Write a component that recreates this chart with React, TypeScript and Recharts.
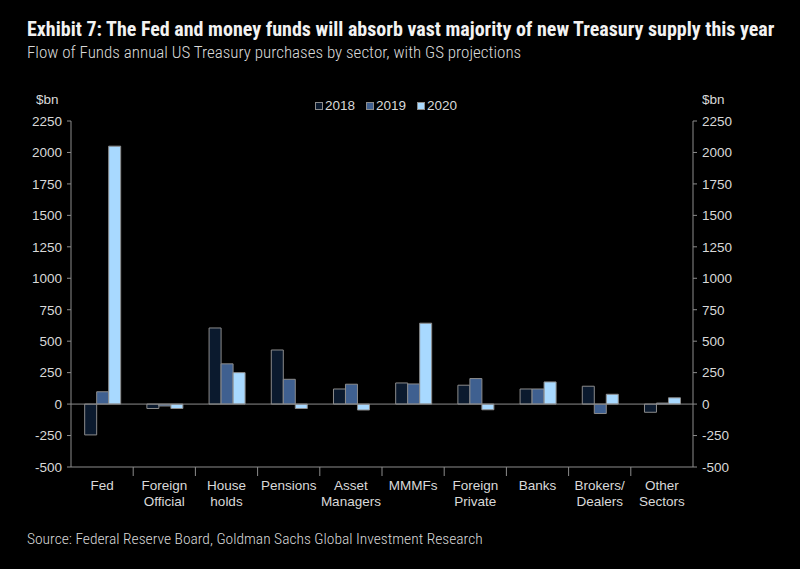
import { ComposedChart, Bar, Line, XAxis, YAxis, ReferenceLine, Legend } from 'recharts';

const sectors = [
  'Fed',
  'Foreign\nOfficial',
  'House\nholds',
  'Pensions',
  'Asset\nManagers',
  'MMMFs',
  'Foreign\nPrivate',
  'Banks',
  'Brokers/\nDealers',
  'Other\nSectors',
];
const y2018 = [-245, -35, 605, 430, 120, 168, 150, 120, 142, -65];
const y2019 = [98, -15, 320, 197, 158, 160, 203, 120, -75, 8];
const y2020 = [2050, -35, 250, -35, -47, 643, -45, 176, 78, 50];
const yTicks = [-500, -250, 0, 250, 500, 750, 1000, 1250, 1500, 1750, 2000, 2250];

const data = sectors.map((name, i) => ({
  name,
  y2018: y2018[i],
  y2019: y2019[i],
  y2020: y2020[i],
}));

// headings use a condensed face, the axes an Arial-like one
const HEAD_FONT = '"Roboto Condensed", "Liberation Sans Narrow", Roboto, Arial, sans-serif';
const AXIS_FONT = '"Liberation Sans", Arial, sans-serif';
const TXT = '#d9d9d9';
const AXIS = '#8c8c8c';
const C2018 = '#0b1a2e';
const C2019 = '#3f6090';
const C2020 = '#a8d9ff';

const PLOT_LEFT = 71;
const PLOT_RIGHT = 693;
const X_AXIS_H = 40;
const BAND = (PLOT_RIGHT - PLOT_LEFT) / sectors.length;

function SectorTick({ x, y, payload, index }: any) {
  const lines = String(payload.value).split('\n');
  return (
    <g>
      {index > 0 && (
        <line x1={x - BAND / 2} x2={x - BAND / 2} y1={y - 8} y2={y + 1} stroke={AXIS} />
      )}
      <text x={x} y={y + 15} textAnchor="middle" fill={TXT} fontSize={13.5} fontFamily={AXIS_FONT}>
        {lines.map((l, i) => (
          <tspan key={i} x={x} dy={i === 0 ? 0 : 16}>
            {l}
          </tspan>
        ))}
      </text>
    </g>
  );
}

const legendItems = [
  { label: '2018', color: C2018 },
  { label: '2019', color: C2019 },
  { label: '2020', color: C2020 },
];

function LegendBox() {
  return (
    <div style={{ display: 'flex', gap: 11, fontFamily: AXIS_FONT, fontSize: 13.5, color: TXT }}>
      {legendItems.map((it) => (
        <div key={it.label} style={{ display: 'flex', alignItems: 'center' }}>
          <span
            style={{
              width: 6,
              height: 6,
              background: it.color,
              border: '1px solid #8c8c8c',
              marginRight: 2,
              display: 'inline-block',
            }}
          />
          {it.label}
        </div>
      ))}
    </div>
  );
}

const yTick = { fill: TXT, fontSize: 13.5, fontFamily: AXIS_FONT };

export default function App() {
  return (
    <div style={{ position: 'absolute', top: 0, left: 0, width: 800, height: 569, background: '#000', overflow: 'hidden' }}>
      <div style={{ position: 'absolute', left: 27, top: 17, fontFamily: HEAD_FONT, fontWeight: 'bold', fontSize: 20, color: '#f2f2f2', whiteSpace: 'nowrap' }}>
        Exhibit 7: The Fed and money funds will absorb vast majority of new Treasury supply this year
      </div>
      <div style={{ position: 'absolute', left: 27, top: 42, fontFamily: HEAD_FONT, fontWeight: 300, fontSize: 17, color: TXT, whiteSpace: 'nowrap' }}>
        Flow of Funds annual US Treasury purchases by sector, with GS projections
      </div>
      <div style={{ position: 'absolute', left: 36, top: 92, fontFamily: AXIS_FONT, fontSize: 13.5, color: TXT }}>$bn</div>
      <div style={{ position: 'absolute', left: 702, top: 92, fontFamily: AXIS_FONT, fontSize: 13.5, color: TXT }}>$bn</div>
      <div style={{ position: 'absolute', left: 27, top: 530, fontFamily: HEAD_FONT, fontWeight: 300, fontSize: 15.5, color: TXT, whiteSpace: 'nowrap' }}>
        Source: Federal Reserve Board, Goldman Sachs Global Investment Research
      </div>
      <div style={{ position: 'absolute', top: 0, left: 0 }}>
        <ComposedChart
          width={800}
          height={569}
          data={data}
          margin={{ top: 121, right: 0, bottom: 102 - X_AXIS_H, left: 0 }}
          barCategoryGap="22%"
          barGap={0}
        >
          <XAxis
            dataKey="name"
            interval={0}
            axisLine={{ stroke: AXIS }}
            tickLine={false}
            tick={<SectorTick />}
            height={X_AXIS_H}
          />
          <YAxis
            yAxisId="left"
            orientation="left"
            width={PLOT_LEFT}
            domain={[-500, 2250]}
            ticks={yTicks}
            interval={0}
            axisLine={{ stroke: AXIS }}
            tickLine={{ stroke: AXIS }}
            tickSize={4}
            tickMargin={5}
            tick={yTick}
          />
          <YAxis
            yAxisId="right"
            orientation="right"
            width={800 - PLOT_RIGHT}
            domain={[-500, 2250]}
            ticks={yTicks}
            interval={0}
            axisLine={{ stroke: AXIS }}
            tickLine={{ stroke: AXIS }}
            tickSize={4}
            tickMargin={5}
            tick={yTick}
          />
          <ReferenceLine yAxisId="left" y={0} stroke={AXIS} />
          <Legend
            verticalAlign="middle"
            align="center"
            content={<LegendBox />}
            wrapperStyle={{ top: 98, left: 315, width: 'auto' }}
          />
          <Bar yAxisId="left" dataKey="y2018" name="2018" fill={C2018} stroke={AXIS} strokeWidth={1} isAnimationActive={false} />
          <Bar yAxisId="left" dataKey="y2019" name="2019" fill={C2019} stroke={AXIS} strokeWidth={1} isAnimationActive={false} />
          <Bar yAxisId="left" dataKey="y2020" name="2020" fill={C2020} stroke={AXIS} strokeWidth={1} isAnimationActive={false} />
          <Line yAxisId="right" dataKey="y2018" stroke="none" dot={false} activeDot={false} legendType="none" isAnimationActive={false} />
        </ComposedChart>
      </div>
    </div>
  );
}
